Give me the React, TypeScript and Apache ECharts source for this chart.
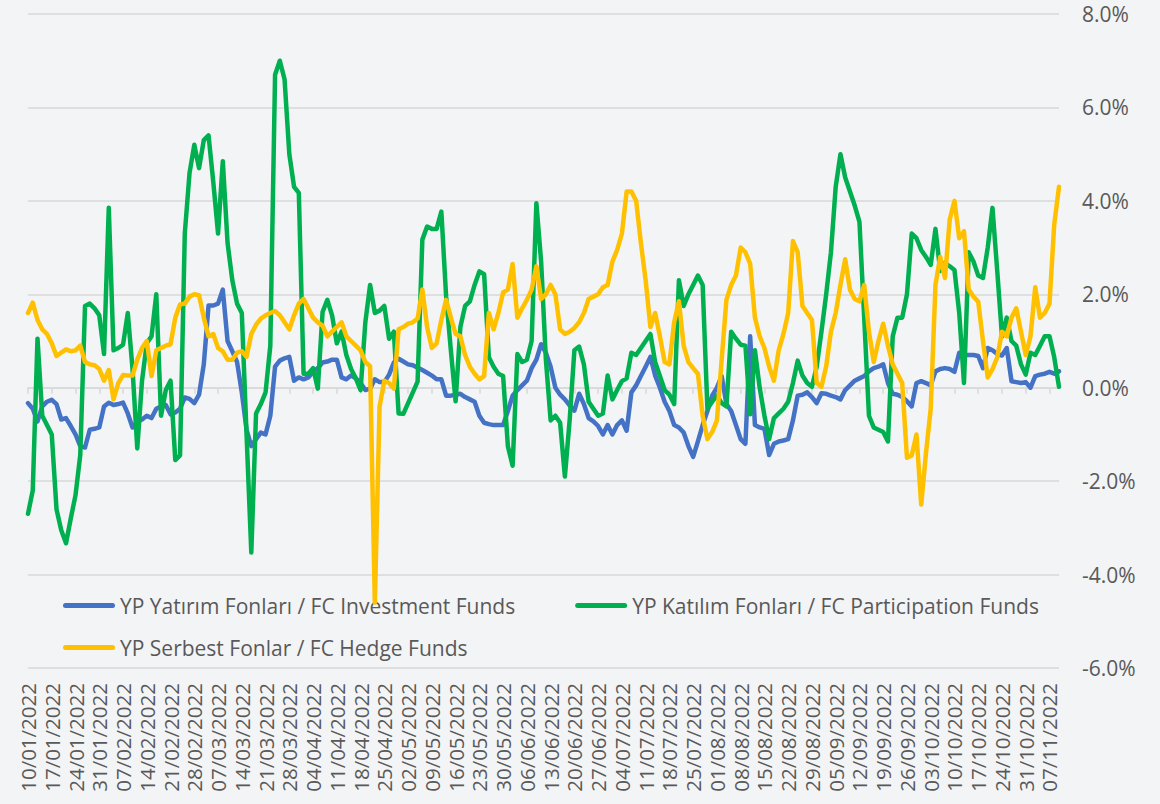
import React, { useEffect, useRef } from "react";
import * as echarts from "echarts";

const START_DATE = "2022-01-10";
const POINT_COUNT = 218;

const seriesNames = [
  "YP Yatırım Fonları / FC Investment Funds",
  "YP Katılım Fonları / FC Participation Funds",
  "YP Serbest Fonlar / FC Hedge Funds",
];

const investmentFunds = [
  -0.33, -0.45, -0.72, -0.4, -0.3, -0.26, -0.35, -0.68, -0.65, -0.82,
  -1.0, -1.25, -1.28, -0.9, -0.88, -0.85, -0.4, -0.32, -0.37, -0.35,
  -0.32, -0.55, -0.85, -0.73, -0.68, -0.6, -0.65, -0.45, -0.4, -0.37,
  -0.57, -0.53, -0.45, -0.21, -0.24, -0.33, -0.15, 0.5, 1.76, 1.76,
  1.8, 2.1, 1.0, 0.78, 0.55, -0.1, -0.9, -1.25, -1.1, -0.96,
  -1.0, -0.6, 0.45, 0.58, 0.63, 0.66, 0.15, 0.22, 0.18, 0.22,
  0.34, 0.42, 0.54, 0.56, 0.6, 0.6, 0.22, 0.18, 0.26, 0.2,
  0.1, -0.05, -0.02, 0.18, 0.12, 0.12, 0.28, 0.54, 0.62, 0.56,
  0.5, 0.48, 0.43, 0.38, 0.32, 0.26, 0.18, 0.18, -0.17, -0.17,
  -0.15, -0.13, -0.2, -0.25, -0.3, -0.6, -0.75, -0.78, -0.8, -0.8,
  -0.8, -0.5, -0.17, -0.05, 0.05, 0.15, 0.42, 0.6, 0.93, 0.75,
  0.45, 0.0, -0.15, -0.25, -0.38, -0.49, -0.13, -0.35, -0.65, -0.72,
  -0.82, -1.0, -0.8, -1.0, -0.8, -0.7, -0.92, -0.1, 0.05, 0.25,
  0.45, 0.66, 0.26, 0.0, -0.3, -0.5, -0.8, -0.85, -0.96, -1.25,
  -1.48, -1.15, -0.8, -0.5, -0.17, 0.0, 0.25, -0.35, -0.5, -0.8,
  -1.1, -1.2, 1.1, -0.8, -0.85, -0.88, -1.44, -1.2, -1.15, -1.13,
  -1.1, -0.7, -0.17, -0.15, -0.1, -0.2, -0.33, -0.12, -0.13, -0.17,
  -0.2, -0.25, -0.05, 0.05, 0.15, 0.2, 0.25, 0.35, 0.42, 0.45,
  0.5, 0.1, -0.13, -0.15, -0.2, -0.29, -0.4, 0.1, 0.14, 0.1,
  0.05, 0.35, 0.4, 0.42, 0.4, 0.34, 0.75, 0.7, 0.7, 0.7,
  0.68, 0.42, 0.85, 0.8, 0.72, 0.69, 0.85, 0.14, 0.12, 0.1,
  0.12, 0.0, 0.25, 0.28, 0.3, 0.34, 0.3, 0.35,
];

const participationFunds = [
  -2.7, -2.2, 1.05, -0.6, -0.8, -1.0, -2.6, -3.05, -3.33, -2.8,
  -2.3, -1.44, 1.75, 1.8, 1.7, 1.55, 0.72, 3.85, 0.8, 0.85,
  0.92, 1.6, 0.4, -1.3, 0.15, 0.95, 1.1, 2.0, -0.6, -0.05,
  0.15, -1.55, -1.45, 3.3, 4.6, 5.2, 4.7, 5.3, 5.4, 4.4,
  3.3, 4.85, 3.1, 2.3, 1.8, 1.6, -1.0, -3.53, -0.55, -0.35,
  -0.1, 0.9, 6.7, 7.0, 6.6, 5.0, 4.3, 4.17, 0.3, 0.3,
  0.42, -0.02, 1.62, 1.88, 1.55, 0.95, 1.2, 0.7, 0.4, 0.2,
  -0.05, 1.4, 2.2, 1.6, 1.65, 1.75, 1.05, 1.2, -0.55, -0.56,
  -0.33, -0.1, 0.13, 3.17, 3.45, 3.4, 3.4, 3.77, 1.96, 0.8,
  -0.29, 1.3, 1.75, 1.85, 2.2, 2.49, 2.43, 0.65, 0.45, 0.3,
  0.25, -1.25, -1.67, 0.72, 0.55, 0.6, 1.0, 3.95, 2.7, 0.6,
  -0.7, -0.6, -0.75, -1.9, -0.7, 0.8, 0.88, 0.5, -0.3, -0.45,
  -0.6, -0.55, 0.26, -0.25, -0.05, 0.14, 0.2, 0.75, 0.7, 0.85,
  1.0, 1.15, 0.55, 0.25, -0.05, -0.15, -0.35, 2.3, 1.75, 2.0,
  2.2, 2.4, 2.2, -0.45, -0.3, -0.17, -0.33, -0.4, 1.2, 1.05,
  0.92, 0.9, -0.57, 0.8, 0.0, -0.6, -1.1, -0.65, -0.55, -0.45,
  -0.3, 0.1, 0.58, 0.26, 0.1, 0.02, 0.45, 1.2, 2.0, 2.9,
  4.3, 5.0, 4.5, 4.2, 3.9, 3.55, 1.5, -0.6, -0.85, -0.9,
  -0.95, -1.15, 1.1, 1.5, 1.5, 2.0, 3.3, 3.2, 2.95, 2.8,
  2.63, 3.4, 2.5, 2.67, 2.6, 2.52, 1.6, 0.1, 2.9, 2.7,
  2.4, 2.35, 3.0, 3.85, 2.5, 1.1, 1.5, 1.0, 0.9, 0.5,
  0.28, 0.75, 0.7, 0.9, 1.1, 1.1, 0.65, 0.02,
];

const hedgeFunds = [
  1.6, 1.82, 1.45, 1.25, 1.15, 0.95, 0.68, 0.75, 0.82, 0.78,
  0.8, 0.9, 0.55, 0.5, 0.48, 0.4, 0.15, 0.38, -0.25, 0.1,
  0.27, 0.26, 0.26, 0.6, 0.85, 1.0, 0.25, 0.8, 0.85, 0.9,
  0.93, 1.5, 1.78, 1.8, 1.95, 2.0, 1.98, 1.5, 1.1, 1.15,
  0.85, 0.78, 0.6, 0.6, 0.75, 0.78, 0.66, 1.15, 1.35, 1.48,
  1.55, 1.6, 1.64, 1.55, 1.4, 1.25, 1.55, 1.8, 1.9, 1.7,
  1.5, 1.4, 1.33, 1.1, 1.2, 1.3, 1.4, 1.1, 1.0, 0.9,
  0.8, 0.55, 0.46, -4.6, -0.4, 0.15, 0.1, -0.02, 1.25, 1.3,
  1.37, 1.4, 1.48, 2.1, 1.3, 0.85, 0.95, 1.45, 1.88, 1.5,
  1.15, 1.1, 0.7, 0.45, 0.3, 0.18, 0.25, 1.6, 1.25, 1.6,
  2.04, 2.1, 2.65, 1.5, 1.7, 1.88, 2.1, 2.6, 1.9, 2.0,
  2.2, 2.0, 1.25, 1.15, 1.2, 1.28, 1.4, 1.6, 1.9, 1.95,
  2.0, 2.15, 2.2, 2.7, 2.95, 3.3, 4.2, 4.2, 4.0, 3.1,
  2.3, 1.3, 1.6, 1.1, 0.55, 0.5, 1.4, 1.85, 0.9, 0.55,
  0.42, 0.3, -0.6, -1.1, -0.95, -0.7, 0.6, 1.88, 2.2, 2.4,
  3.0, 2.9, 2.65, 1.5, 1.1, 0.85, 0.45, 0.15, 0.8, 1.15,
  1.6, 3.14, 2.9, 1.75, 1.6, 1.45, 0.1, 0.02, 0.46, 1.2,
  1.6, 2.2, 2.75, 2.1, 1.9, 1.85, 2.2, 1.2, 0.55, 1.0,
  1.37, 0.9, 0.5, 0.3, 0.1, -1.5, -1.45, -1.0, -2.5, -1.4,
  -0.45, 2.2, 2.8, 2.35, 3.6, 4.0, 3.2, 3.35, 2.1, 1.95,
  1.84, 1.0, 0.22, 0.4, 0.65, 1.2, 1.1, 1.5, 1.7, 1.2,
  0.7, 1.1, 2.15, 1.5, 1.6, 1.8, 3.5, 4.3,
];

const yTicks = { min: -6, max: 8, interval: 2 };
const seriesColors = ["#4472c4", "#00b050", "#ffc000"];

function businessDays(start: string, count: number): string[] {
  const out: string[] = [];
  const d = new Date(start + "T00:00:00Z");
  while (out.length < count) {
    const wd = d.getUTCDay();
    if (wd !== 0 && wd !== 6) {
      const dd = String(d.getUTCDate()).padStart(2, "0");
      const mm = String(d.getUTCMonth() + 1).padStart(2, "0");
      out.push(`${dd}/${mm}/${d.getUTCFullYear()}`);
    }
    d.setUTCDate(d.getUTCDate() + 1);
  }
  return out;
}

const categories = businessDays(START_DATE, POINT_COUNT);

const FONT = "'Open Sans', 'Noto Sans', sans-serif";
const TEXT_COLOR = "#595959";
const legendIcon =
  "path://M2.5,0 L49.5,0 A2.5,2.5 0 0 1 49.5,5 L2.5,5 A2.5,2.5 0 0 1 2.5,0 Z";

export default function App() {
  const ref = useRef<HTMLDivElement>(null);

  useEffect(() => {
    if (!ref.current) return;
    const chart = echarts.init(ref.current, undefined, { renderer: "svg" });
    const values = [investmentFunds, participationFunds, hedgeFunds];
    const legendText = { fontSize: 21, color: TEXT_COLOR, fontFamily: FONT };
    chart.setOption({
      animation: false,
      backgroundColor: "#f3f4f6",
      textStyle: { fontFamily: FONT },
      grid: {
        left: 28,
        right: 101,
        top: 14,
        bottom: 136,
        containLabel: false,
        outerBoundsMode: "none",
      },
      legend: [
        {
          data: [seriesNames[0], seriesNames[1]],
          left: 58,
          top: 590,
          z: 1,
          icon: legendIcon,
          itemWidth: 52,
          itemHeight: 5,
          itemGap: 60,
          textStyle: legendText,
        },
        {
          data: [seriesNames[2]],
          left: 58,
          top: 632,
          z: 1,
          icon: legendIcon,
          itemWidth: 52,
          itemHeight: 5,
          textStyle: legendText,
        },
      ],
      xAxis: {
        type: "category",
        data: categories,
        boundaryGap: false,
        axisLine: { show: true, onZero: true, lineStyle: { color: "#d9d9d9", width: 1.5 } },
        axisTick: { show: true, interval: 4, length: 6, lineStyle: { color: "#d9d9d9", width: 1.5 } },
        axisLabel: {
          interval: 4,
          rotate: 90,
          margin: 15,
          fontSize: 20.5,
          color: TEXT_COLOR,
          fontFamily: FONT,
        },
        splitLine: { show: false },
      },
      yAxis: {
        type: "value",
        position: "right",
        min: yTicks.min,
        max: yTicks.max,
        interval: yTicks.interval,
        axisLine: { show: false },
        axisTick: { show: false },
        axisLabel: {
          margin: 23,
          fontSize: 21,
          lineHeight: 16,
          color: TEXT_COLOR,
          fontFamily: FONT,
          formatter: (v: number) => v.toFixed(1) + "%",
        },
        splitLine: { lineStyle: { color: "#d9d9d9", width: 1.5 } },
      },
      series: values.map((data, k) => ({
        name: seriesNames[k],
        type: "line",
        data,
        symbol: "none",
        z: 2 + k,
        lineStyle: { color: seriesColors[k], width: 4.5, join: "round", cap: "round" },
        itemStyle: { color: seriesColors[k] },
      })),
    });
    return () => chart.dispose();
  }, []);

  return (
    <div
      ref={ref}
      style={{ position: "absolute", left: 0, top: 0, width: 1160, height: 804 }}
    />
  );
}
